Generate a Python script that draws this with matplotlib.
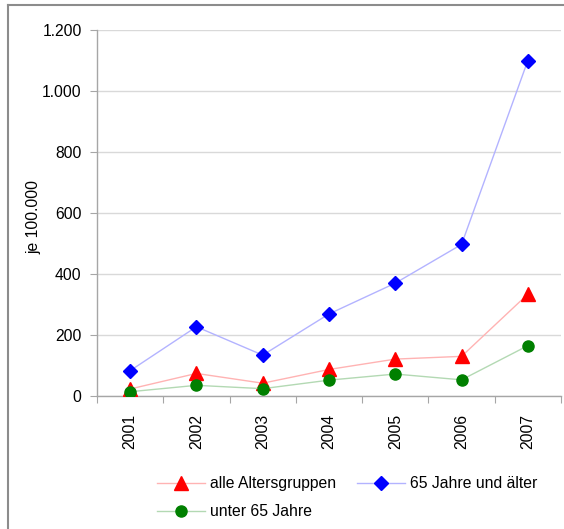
import matplotlib
matplotlib.use("Agg")
import matplotlib.pyplot as plt
from matplotlib.lines import Line2D
import numpy as np

plt.rcParams['font.family'] = ['Liberation Sans', 'DejaVu Sans']

years = ["2001", "2002", "2003", "2004", "2005", "2006", "2007"]
alle = [23, 74, 42, 87, 121, 130, 334]
ueber65 = [83, 227, 134, 269, 370, 497, 1100]
unter65 = [14, 35, 24, 52, 72, 53, 165]
yticks = [0, 200, 400, 600, 800, 1000, 1200]
ytick_labels = ["0", "200", "400", "600", "800", "1.000", "1.200"]
series_labels = ["alle Altersgruppen", "65 Jahre und älter", "unter 65 Jahre"]
ylabel = "je 100.000"

W, H = 564, 529
fig = plt.figure(figsize=(W / 100, H / 100), dpi=100)
ax = fig.add_axes([97 / W, 1 - 396 / H, (561 - 97) / W, (396 - 30) / H])

x = np.arange(len(years))
fs = 11.3
grey = "#a6a6a6"

l1, = ax.plot(x, alle, color="#ffb3b3", lw=1.0, marker="^", markersize=10,
              markerfacecolor="#ff0000", markeredgecolor="#ff0000", zorder=3)
l2, = ax.plot(x, ueber65, color="#b3b3ff", lw=1.0, marker="D", markersize=7,
              markerfacecolor="#0000ff", markeredgecolor="#0000ff", zorder=4)
l3, = ax.plot(x, unter65, color="#b3d9b3", lw=1.0, marker="o", markersize=8,
              markerfacecolor="#008000", markeredgecolor="#008000", zorder=5)

ax.set_xlim(-0.5, len(years) - 0.5)
ax.set_ylim(0, 1200)
ax.set_yticks(yticks)
ax.set_yticklabels(ytick_labels, fontsize=fs)
ax.set_xticks(np.arange(len(years) + 1) - 0.5)
ax.set_xticklabels([])
ax.set_xticks(x, minor=True)
ax.set_xticklabels(years, minor=True, rotation=90, fontsize=fs)
ax.tick_params(axis="x", which="minor", length=0, pad=13)
ax.tick_params(axis="x", which="major", length=5, color=grey, direction="out")
ax.tick_params(axis="y", length=5, color=grey, direction="out", pad=6)
ax.yaxis.grid(True, color="#d9d9d9", lw=1.0)
ax.set_axisbelow(True)
for s in ["top", "right"]:
    ax.spines[s].set_visible(False)
for s in ["left", "bottom"]:
    ax.spines[s].set_color(grey)
    ax.spines[s].set_linewidth(1.0)
ax.set_ylabel(ylabel, fontsize=fs)
ax.yaxis.set_label_coords((41 - 97) / (561 - 97), 0.49)

leg = fig.legend([l1, l3, l2], [series_labels[0], series_labels[2], series_labels[1]],
                 ncol=2, loc="upper left",
                 bbox_to_anchor=(143 / W, 1 - 462 / H), frameon=False,
                 fontsize=fs, handlelength=3.05, handletextpad=0.35,
                 columnspacing=1.3, labelspacing=0.85)

# outer frame (cut off on right and bottom)
fig.add_artist(Line2D([8 / W, 8 / W], [0, 1 - 5 / H], color="#8c8c8c", lw=1.5,
                      transform=fig.transFigure))
fig.add_artist(Line2D([8 / W, 1], [1 - 5 / H, 1 - 5 / H], color="#8c8c8c", lw=1.5,
                      transform=fig.transFigure))

fig.savefig("out.png", dpi=100)
